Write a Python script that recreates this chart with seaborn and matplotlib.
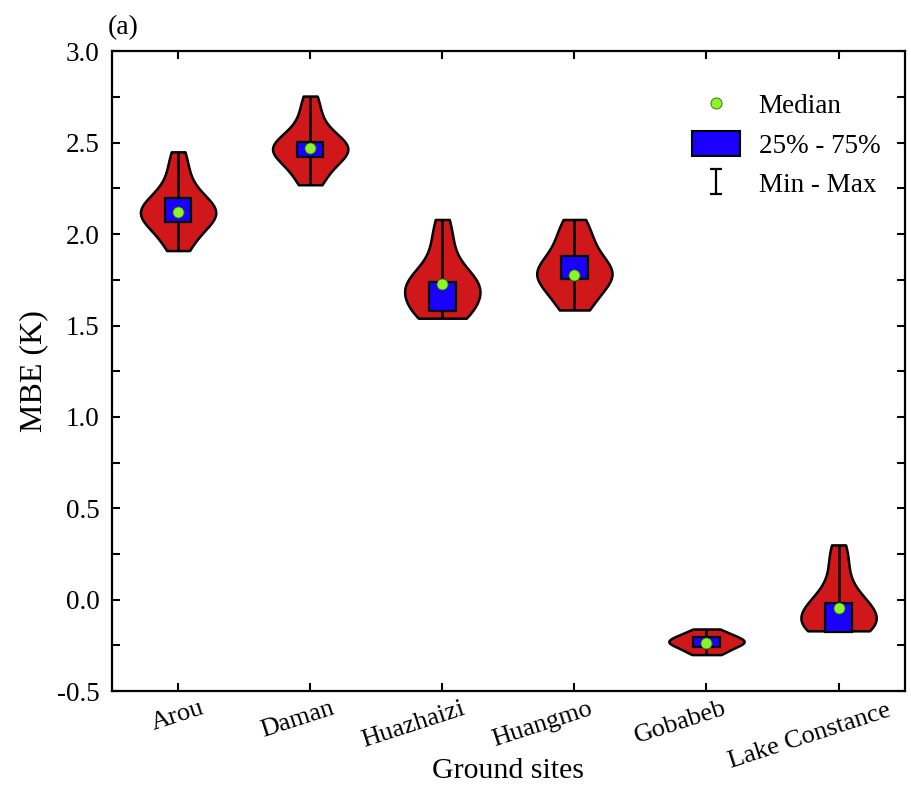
import numpy as np
import pandas as pd
import matplotlib
matplotlib.use("Agg")
import matplotlib.pyplot as plt
from matplotlib.lines import Line2D
from matplotlib.patches import Patch
from matplotlib.path import Path
import matplotlib.transforms as mtransforms
import seaborn as sns

# ---------------- data ----------------
sites = ["Arou", "Daman", "Huazhaizi", "Huangmo", "Gobabeb", "Lake Constance"]

arou = [1.91, 1.94, 1.98, 2.02, 2.05, 2.07, 2.08, 2.10, 2.11, 2.12, 2.12, 2.13,
        2.14, 2.16, 2.18, 2.20, 2.23, 2.27, 2.33, 2.39, 2.45]
daman = [2.27, 2.29, 2.33, 2.37, 2.40, 2.42, 2.44, 2.45, 2.46, 2.47, 2.47, 2.48,
         2.49, 2.50, 2.52, 2.55, 2.59, 2.64, 2.70, 2.755]
huazhaizi = [1.54, 1.55, 1.56, 1.58, 1.60, 1.62, 1.65, 1.68, 1.71, 1.72, 1.73,
             1.73, 1.74, 1.76, 1.80, 1.86, 1.93, 2.00, 2.08]
huangmo = [1.585, 1.61, 1.64, 1.68, 1.72, 1.75, 1.76, 1.77, 1.78, 1.79, 1.80,
           1.82, 1.85, 1.88, 1.91, 1.95, 2.00, 2.04, 2.08]
gobabeb = [-0.30, -0.29, -0.275, -0.26, -0.25, -0.24, -0.235, -0.23, -0.225,
           -0.22, -0.21, -0.20, -0.19, -0.175, -0.16]
lake_constance = [-0.17, -0.17, -0.165, -0.16, -0.15, -0.14, -0.12, -0.10, -0.08,
                  -0.06, -0.045, -0.03, -0.02, 0.0, 0.04, 0.10, 0.17, 0.24, 0.30]

q1_vals = [2.065, 2.42, 1.578, 1.753, -0.26, -0.175]
median_vals = [2.12, 2.47, 1.726, 1.775, -0.237, -0.045]
q3_vals = [2.195, 2.502, 1.737, 1.879, -0.205, -0.02]
min_vals = [1.91, 2.27, 1.54, 1.585, -0.30, -0.17]
max_vals = [2.45, 2.755, 2.08, 2.08, -0.16, 0.30]

y_ticks = [-0.5, 0.0, 0.5, 1.0, 1.5, 2.0, 2.5, 3.0]
y_tick_labels = ["-0.5", "0.0", "0.5", "1.0", "1.5", "2.0", "2.5", "3.0"]

series = [arou, daman, huazhaizi, huangmo, gobabeb, lake_constance]
df = pd.DataFrame({
    "site": np.repeat(sites, [len(s) for s in series]),
    "mbe": np.concatenate(series),
})

# ---------------- style ----------------
sns.set_style("ticks")
plt.rcParams["font.family"] = ["Liberation Serif", "DejaVu Serif"]
plt.rcParams["mathtext.fontset"] = "stix"
plt.rcParams["text.color"] = "black"
plt.rcParams["axes.labelcolor"] = "black"
plt.rcParams["xtick.color"] = "black"
plt.rcParams["ytick.color"] = "black"

RED = "#d0181a"
BLUE = "#1a00ff"
GREEN = "#8cf52a"

fig = plt.figure(figsize=(9.11, 7.89), dpi=100)
ax = fig.add_axes([0.123, 0.124, 0.870, 0.811])

sns.violinplot(data=df, x="site", y="mbe", order=sites, cut=0, inner=None,
               color=RED, saturation=1, linewidth=1.8, linecolor="black",
               density_norm="width", width=0.57, bw_adjust=1.05, ax=ax)
for c in ax.collections:
    c.set_facecolor(RED)
    c.set_edgecolor("black")

xpos = np.arange(len(sites))
ax.vlines(xpos, min_vals, max_vals, colors="black", linewidth=1.8, zorder=3)
ax.bar(xpos, np.array(q3_vals) - np.array(q1_vals), bottom=q1_vals, width=0.2,
       color=BLUE, edgecolor="black", linewidth=1.6, zorder=4)
ax.scatter(xpos, median_vals, s=65, color=GREEN, edgecolor="#2a6010",
           linewidth=0.6, zorder=5)

# axes
ax.set_xlim(-0.5, 5.5)
ax.set_ylim(-0.5, 3.0)
ax.set_yticks(y_ticks)
ax.set_yticklabels(y_tick_labels)
ax.set_yticks(np.arange(-0.25, 3.0, 0.5), minor=True)
ax.tick_params(axis="both", which="both", direction="in", top=True, right=True,
               width=1.5, length=6, labelsize=19.5, colors="black",
               labelcolor="black")
ax.tick_params(axis="y", which="major", pad=9)
ax.set_xticks(xpos)
ax.set_xticklabels([])

# rotated category labels, drawn as texts with small pixel shifts
label_shift_px = [0, -13, -29, -32, -26, -29]
label_drop_px = [0, 0, 0, 0, 0, 2]
base = mtransforms.blended_transform_factory(ax.transData, ax.transAxes)
for i, name in enumerate(sites):
    tr = base + mtransforms.ScaledTranslation(label_shift_px[i] / 100,
                                              -label_drop_px[i] / 100,
                                              fig.dpi_scale_trans)
    ax.text(i, -0.01, name, transform=tr, rotation=18, ha="center", va="top",
            fontsize=19, color="black")

for sp in ax.spines.values():
    sp.set_linewidth(1.6)
    sp.set_color("black")
    sp.set_visible(True)

ax.set_xlabel("Ground sites", fontsize=21.5, color="black")
ax.xaxis.set_label_coords(0.5, -0.104)
ax.xaxis.label.set_va("top")
ax.set_ylabel("MBE (K)", fontsize=23, labelpad=6, color="black")
ax.text(-0.006, 1.018, "(a)", transform=ax.transAxes, fontsize=20, ha="left",
        va="bottom", color="black")

# legend
ibeam = Path([(-0.5, 1), (0.5, 1), (0, 1), (0, -1), (-0.5, -1), (0.5, -1)],
             [Path.MOVETO, Path.LINETO, Path.MOVETO, Path.LINETO,
              Path.MOVETO, Path.LINETO])
handles = [
    Line2D([], [], marker="o", linestyle="none", markerfacecolor=GREEN,
           markeredgecolor="#2a6010", markeredgewidth=0.6, markersize=8),
    Patch(facecolor=BLUE, edgecolor="black", linewidth=1.5),
    Line2D([], [], marker=ibeam, linestyle="none", color="black",
           markersize=18, markeredgewidth=1.6),
]
leg = ax.legend(handles, ["Median", "25% - 75%", "Min - Max"], loc="upper right",
                bbox_to_anchor=(1.0, 0.975), frameon=False, fontsize=19.5,
                handlelength=1.75, handleheight=1.05, labelspacing=0.42,
                handletextpad=0.7)
for t in leg.get_texts():
    t.set_color("black")

fig.savefig("out.png", dpi=100)
